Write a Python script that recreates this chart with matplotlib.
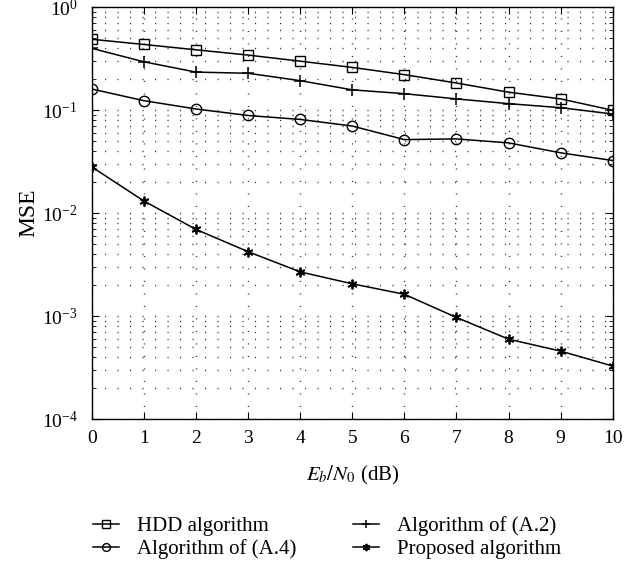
import numpy as np
import matplotlib.pyplot as plt
from matplotlib.ticker import LogLocator, NullFormatter, MultipleLocator

plt.rcParams['font.family'] = ['Liberation Serif', 'DejaVu Serif']
plt.rcParams['mathtext.fontset'] = 'stix'
plt.rcParams['font.size'] = 14

# Eb/N0 in dB
snr = [0, 1, 2, 3, 4, 5, 6, 7, 8, 9, 10]

# MSE
mse_hdd = [0.49, 0.436, 0.387, 0.344, 0.30, 0.261, 0.222, 0.184, 0.150, 0.129, 0.100]
mse_a2 = [0.40, 0.296, 0.235, 0.229, 0.194, 0.158, 0.145, 0.129, 0.116, 0.106, 0.092]
mse_a4 = [0.161, 0.124, 0.103, 0.089, 0.0815, 0.0703, 0.0519, 0.0527, 0.0482, 0.0386, 0.0325]
mse_prop = [0.0282, 0.01315, 0.00696, 0.00423, 0.00269, 0.00206, 0.00163,
            0.00097, 0.000597, 0.000457, 0.000327]

labels = ['HDD algorithm', 'Algorithm of (A.4)', 'Algorithm of (A.2)', 'Proposed algorithm']

fig = plt.figure(figsize=(6.24, 5.67), dpi=100)
ax = fig.add_axes([0.147, 0.261, 0.835, 0.726])

asterisk = (6, 2, 0)
h1, = ax.semilogy(snr, mse_hdd, 'k-', marker='s', mfc='none', ms=7, lw=1.1, mew=1)
h2, = ax.semilogy(snr, mse_a4, 'k-', marker='o', mfc='none', ms=7.5, lw=1.1, mew=1)
h3, = ax.semilogy(snr, mse_a2, 'k-', marker='+', ms=8, lw=1.1, mew=1.1)
h4, = ax.semilogy(snr, mse_prop, 'k-', marker=asterisk, ms=7, lw=1.1, mew=1.3)

ax.set_xlim(0, 10)
ax.set_ylim(1e-4, 1)
ax.xaxis.set_major_locator(MultipleLocator(1))
ax.yaxis.set_major_locator(LogLocator(base=10, numticks=10))
ax.yaxis.set_minor_locator(LogLocator(base=10, subs=np.arange(2, 10), numticks=20))
ax.yaxis.set_minor_formatter(NullFormatter())

# sparse dotted grid like the original
dots = (0, (0.8, 8.2))
ax.grid(True, which='major', axis='both', color='k', lw=1, linestyle=dots, alpha=0.8)
ax.grid(True, which='minor', axis='y', color='k', lw=1, linestyle=dots, alpha=0.8)

ax.tick_params(which='both', direction='in', top=True, right=True)
ax.tick_params(which='major', length=5, width=0.8, labelsize=14)
ax.tick_params(axis='x', which='major', pad=8)
ax.tick_params(axis='y', which='major', pad=10)
ax.tick_params(which='minor', length=3, width=0.6)
for s in ax.spines.values():
    s.set_linewidth(1.0)

ax.set_xlabel('$E_b/N_0$ (dB)', fontsize=15, labelpad=12)
ax.set_ylabel('MSE', fontsize=17, labelpad=2)

leg = fig.legend([h1, h2, h3, h4], labels, ncol=2, frameon=False, fontsize=15,
                 loc='upper left', bbox_to_anchor=(0.119, 0.123),
                 handlelength=1.25, handletextpad=0.85, columnspacing=2.75,
                 labelspacing=0.17, markerscale=0.75)

fig.savefig('out.png', dpi=100)
